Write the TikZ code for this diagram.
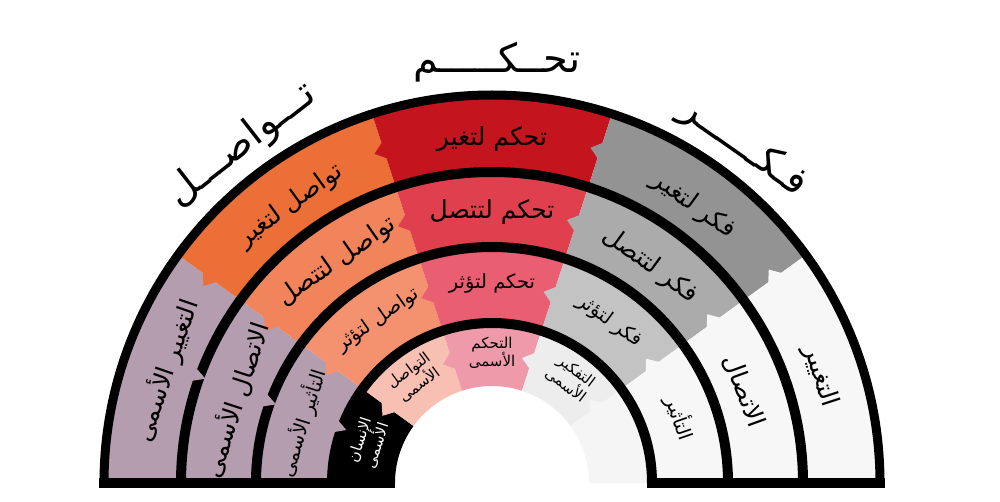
\documentclass[tikz,border=0pt]{standalone}
\usepackage{fontspec}
\newfontfamily\arabicfont[Script=Arabic]{DejaVu Sans}
\TeXXeTstate=1
\newcommand\ar[1]{\arabicfont\beginR #1\endR}
\definecolor{mauve}{HTML}{B59DB0}
\definecolor{orA}{HTML}{EB6F37}
\definecolor{orB}{HTML}{F2845B}
\definecolor{orC}{HTML}{F4916F}
\definecolor{rdA}{HTML}{C4141E}
\definecolor{rdB}{HTML}{E0404E}
\definecolor{rdC}{HTML}{E95F71}
\definecolor{gyA}{HTML}{939393}
\definecolor{gyB}{HTML}{ABABAB}
\definecolor{gyC}{HTML}{C3C3C3}
\definecolor{lite}{HTML}{F7F7F7}
\definecolor{pkA}{HTML}{F8BFB3}
\definecolor{pkB}{HTML}{EE9AAB}
\definecolor{gyD}{HTML}{EDEDED}
\definecolor{gyE}{HTML}{F5F5F5}
% #1 rin, #2 rout, #3 a0, #4 a1, #5 colour, #6 tip (1/0)
\newcommand\seg[6]{%
  \pgfmathsetmacro\sgm{(#1+#2)/2}%
  \pgfmathsetmacro\sgd{10/\sgm*180/pi}%
  \ifnum#6=1
    \fill[#5] (#3:#1) -- (#3:#2) arc[start angle=#3,end angle=#4,radius=#2]
      -- ({#4}:{\sgm+8}) -- ({#4+\sgd}:{\sgm}) -- ({#4}:{\sgm-8})
      -- (#4:#1) arc[start angle=#4,end angle=#3,radius=#1] -- cycle;
  \else
    \fill[#5] (#3:#1) -- (#3:#2) arc[start angle=#3,end angle=#4,radius=#2]
      -- (#4:#1) arc[start angle=#4,end angle=#3,radius=#1] -- cycle;
  \fi}
% mauve wedge in a black line at radius #1
\newcommand\mwedge[1]{%
  \pgfmathsetmacro\wgd{6.5/#1*180/pi}%
  \fill[mauve] ({160-\wgd}:{#1+6}) -- ({160+\wgd}:{#1+6}) -- (160:{#1-6}) -- cycle;}
\begin{document}
\begin{tikzpicture}[x=1pt,y=1pt,
  blk/.style={line width=10pt},
  lblA/.style={font=\fontsize{25}{27}\selectfont, inner sep=0pt},
  lblB/.style={font=\fontsize{19.5}{21}\selectfont, inner sep=0pt},
  lblC/.style={font=\fontsize{15}{18}\selectfont, inner sep=0pt, align=center},
  lblT/.style={font=\fontsize{40}{42}\selectfont, inner sep=0pt}]
\useasboundingbox (-492,-18) rectangle (508,483);
\fill[white] (-492,-18) rectangle (508,483);
% ring 1
\seg{311}{388}{144}{180}{mauve}{0}
\seg{311}{388}{108}{144}{orA}{1}
\seg{311}{388}{72}{108}{rdA}{1}
\seg{311}{388}{36}{72}{gyA}{1}
\seg{311}{388}{0}{36}{lite}{1}
% ring 2
\seg{236}{311}{144}{180}{mauve}{0}
\seg{236}{311}{108}{144}{orB}{1}
\seg{236}{311}{72}{108}{rdB}{1}
\seg{236}{311}{36}{72}{gyB}{1}
\seg{236}{311}{0}{36}{lite}{1}
% ring 3
\seg{160}{236}{144}{180}{mauve}{0}
\seg{160}{236}{108}{144}{orC}{1}
\seg{160}{236}{72}{108}{rdC}{1}
\seg{160}{236}{36}{72}{gyC}{1}
\seg{160}{236}{0}{36}{lite}{1}
% ring 4
\seg{97}{160}{144}{180}{black}{0}
\seg{97}{160}{108}{144}{pkA}{1}
\seg{97}{160}{72}{108}{pkB}{1}
\seg{97}{160}{36}{72}{gyD}{1}
\seg{97}{160}{0}{36}{gyE}{1}
% black lines
\draw[line width=9pt] (0:388) arc[start angle=0,end angle=180,radius=388];
\draw[blk] (0:311) arc[start angle=0,end angle=180,radius=311];
\draw[blk] (0:236) arc[start angle=0,end angle=180,radius=236];
\draw[blk] (0:160) arc[start angle=0,end angle=180,radius=160];
\mwedge{311}
\mwedge{236}
\mwedge{161}
\draw[blk] (-392.5,0) -- (-97,0);
\draw[blk] (155,0) -- (392.5,0);
% ring 1 labels
\node[lblA, rotate=71] (t1a) at (161:345) {\ar{التغيير الأسمى}};
\node[lblA, rotate=36] (t1b) at (126:343) {\ar{تواصل لتغير}};
\node[lblA] (t1c) at (90:344) {\ar{تحكم لتغير}};
\node[lblA, rotate=-36] (t1d) at (54:343) {\ar{فكر لتغير}};
\node[lblA, rotate=-72] (t1e) at (18:345) {\ar{التغيير}};
% ring 2 labels
\node[lblA, rotate=72] (t2a) at (162:270) {\ar{الاتصال الأسمى}};
\node[lblA, rotate=35] (t2b) at (125:270) {\ar{تواصل لتتصل}};
\node[lblA] (t2c) at (90:271) {\ar{تحكم لتتصل}};
\node[lblA, rotate=-36] (t2d) at (54:269) {\ar{فكر لتتصل}};
\node[lblA, rotate=-70] (t2e) at (20:268) {\ar{الاتصال}};
% ring 3 labels
\node[lblB, rotate=72.5] (t3a) at (162.5:199) {\ar{التأثير الأسمى}};
\node[lblB, rotate=35] (t3b) at (125:199) {\ar{تواصل لتؤثر}};
\node[lblB] (t3c) at (90:200) {\ar{تحكم لتؤثر}};
\node[lblB, rotate=-36] (t3d) at (54:200) {\ar{فكر لتؤثر}};
\node[lblB, rotate=-71] (t3e) at (19:199) {\ar{التأثير}};
% ring 4 labels
\node[lblC, rotate=72, text=white] (t4a) at (162:130) {\ar{الإنسان}\\\ar{الأسمى}};
\node[lblC, rotate=36.5] (t4b) at (126.5:131) {\ar{التواصل}\\\ar{الأسمى}};
\node[lblC] (t4c) at (90:130) {\ar{التحكم}\\\ar{الأسمى}};
\node[lblC, rotate=-37] (t4d) at (53:131) {\ar{التفكير}\\\ar{الأسمى}};
% top labels
\node[lblT, rotate=38] (tw) at (-250,338) {\ar{تـــواصـــل}};
\node[lblT] (th) at (5,421) {\ar{تحــكـــــم}};
\node[lblT, rotate=-35] (tf) at (252,336) {\ar{فـكــــــر}};
\end{tikzpicture}
\end{document}
